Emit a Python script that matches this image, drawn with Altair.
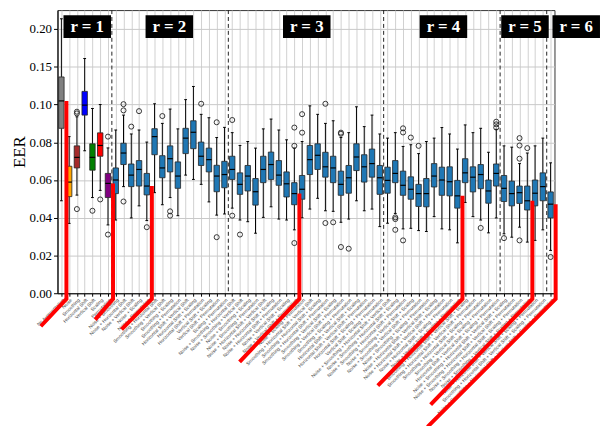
import json
from itertools import combinations
import pandas as pd
import altair as alt

# ---------------- data ----------------
METHODS = ["Noise", "Smoothing", "Horizontal Shift", "Vertical Shift", "Scaling", "Permutation"]
LABELS = ["No Augmentation"] + [" + ".join(c) for r in range(1, 7) for c in combinations(METHODS, r)]

WHISKER_LO = [0.049, 0.037, 0.052, 0.0755, 0.0507, 0.0545, 0.0362,
              0.0388, 0.0565, 0.0399, 0.0463, 0.0385, 0.0533, 0.0469, 0.0507, 0.0411, 0.0626,
              0.0603, 0.0577, 0.0484, 0.0414, 0.042,
              0.0451, 0.0388, 0.0379, 0.0318, 0.0402, 0.0458, 0.0393, 0.0388, 0.0336, 0.040,
              0.0446, 0.0503, 0.0437, 0.0434, 0.0376, 0.0393, 0.049, 0.0437, 0.0446, 0.0353,
              0.0371, 0.0423, 0.0341, 0.0344, 0.0332, 0.0327, 0.0406, 0.0341, 0.0336, 0.0267,
              0.0481, 0.0406, 0.0388, 0.032, 0.0399,
              0.0315, 0.0297, 0.035, 0.0271, 0.028, 0.0336,
              0.0227]
Q1 = [0.0874, 0.0512, 0.0664, 0.0944, 0.0652, 0.0726, 0.0507,
      0.0528, 0.0682, 0.0565, 0.0568, 0.0521, 0.0734, 0.0612, 0.0643, 0.0556, 0.074,
      0.0766, 0.0677, 0.0643, 0.0538, 0.0559,
      0.0603, 0.0524, 0.0542, 0.0467, 0.0586, 0.0603, 0.0572, 0.051, 0.0469, 0.0498,
      0.0629, 0.0656, 0.0615, 0.0586, 0.0519, 0.053, 0.065, 0.0589, 0.0615, 0.0524,
      0.053, 0.0586, 0.0519, 0.0498, 0.046, 0.0458, 0.0563, 0.0519, 0.0516, 0.0451,
      0.0586, 0.0537, 0.0554, 0.0477, 0.0568,
      0.0486, 0.0463, 0.0476, 0.0441, 0.0463, 0.049,
      0.0399]
MEDIAN = [0.1048, 0.0589, 0.072, 0.0997, 0.072, 0.0783, 0.0582,
          0.060, 0.0743, 0.0626, 0.0656, 0.0568, 0.083, 0.0664, 0.0713, 0.0621, 0.0822,
          0.0853, 0.0726, 0.0708, 0.0621, 0.0629,
          0.0656, 0.0577, 0.0621, 0.0538, 0.0656, 0.0682, 0.0626, 0.058, 0.0528, 0.0551,
          0.0708, 0.0731, 0.067, 0.0664, 0.0577, 0.0612, 0.0722, 0.067, 0.0687, 0.0612,
          0.0598, 0.0635, 0.0572, 0.0551, 0.0528, 0.0528, 0.0621, 0.060, 0.0591, 0.0516,
          0.0638, 0.0615, 0.0629, 0.0542, 0.0635,
          0.0556, 0.0528, 0.0533, 0.049, 0.053, 0.0565,
          0.0472]
Q3 = [0.1365, 0.0673, 0.0781, 0.1174, 0.0792, 0.085, 0.0635,
      0.0664, 0.0795, 0.0685, 0.0703, 0.0635, 0.0872, 0.0729, 0.0781, 0.0696, 0.0874,
      0.0914, 0.0801, 0.0769, 0.0678, 0.0699,
      0.0726, 0.0638, 0.0677, 0.0608, 0.0726, 0.0748, 0.0703, 0.0643, 0.0586, 0.0624,
      0.0783, 0.0792, 0.0747, 0.0726, 0.0647, 0.0677, 0.0792, 0.0734, 0.0764, 0.0677,
      0.0668, 0.0703, 0.0647, 0.0617, 0.0577, 0.0608, 0.0687, 0.0668, 0.067, 0.0598,
      0.0713, 0.067, 0.0682, 0.060, 0.0685,
      0.0624, 0.0594, 0.0568, 0.0568, 0.060, 0.0638,
      0.0537]
WHISKER_HI = [0.2135, 0.083, 0.0935, 0.1609, 0.0979, 0.100, 0.077,
              0.0865, 0.0944, 0.0844, 0.0865, 0.0801, 0.101, 0.090, 0.0976, 0.0871, 0.1065,
              0.1239, 0.0948, 0.093, 0.0825, 0.0879,
              0.0851, 0.0783, 0.0804, 0.0769, 0.0871, 0.0923, 0.0865, 0.0813, 0.0769, 0.0804,
              0.0993, 0.0948, 0.090, 0.0914, 0.0825, 0.0851, 0.0988, 0.0883, 0.0944, 0.0844,
              0.0822, 0.0851, 0.0778, 0.0787, 0.074, 0.0804, 0.0822, 0.0878, 0.0844, 0.0764,
              0.0892, 0.0851, 0.0874, 0.0747, 0.0869,
              0.0781, 0.0774, 0.0687, 0.0743, 0.0781, 0.0822,
              0.0691]
OUTLIERS = [[], [], [0.0962, 0.0953, 0.0446], [], [0.0437], [0.0497], [0.083, 0.0311],
            [], [0.1005, 0.0969, 0.0486], [0.0883], [0.0965], [0.035], [], [0.0939],
            [0.0434, 0.0411], [], [], [], [0.101], [], [0.0906, 0.0297], [],
            [0.0918, 0.0411], [0.0311], [], [], [], [], [], [], [0.0878, 0.0781, 0.0266],
            [0.0949, 0.0851], [], [], [0.101, 0.0372], [0.0376], [0.0851, 0.0845, 0.0245],
            [0.0236], [], [], [], [],
            [], [0.0402, 0.0393, 0.0336], [0.0874, 0.0852, 0.028], [0.0825], [0.0781], [],
            [], [], [], [], [], [], [0.0346], [], [0.0909, 0.0895, 0.0878],
            [0.0292], [], [0.0822, 0.0783, 0.0713, 0.028], [0.0769], [], [],
            [0.0192]]

GROUP_TEXT = ["r = 1", "r = 2", "r = 3", "r = 4", "r = 5", "r = 6"]
GROUP_X = [3.33, 13.9, 31.6, 49.2, 59.7, 66.3]
GROUP_Y = 0.203
SEPARATORS = [6.5, 21.5, 41.5, 56.5, 62.5]

# highlighted (best) boxes and their callout leaders toward the tick labels
HILITE = [0, 6, 11, 30, 51, 60, 63]
LEAD_DX = [3.3, 2.3, 3.9, 7.7, 10.9, 13.1, 16.5]
LEAD_Y = [-0.0175, -0.014, -0.0192, -0.0364, -0.049, -0.059, -0.0708]
BEND_Y = -0.003

COLOR_KEYS = LABELS[:7] + ["combination"]
COLOR_RANGE = ["#808080", "#ffa500", "#a52a2a", "#0000ff", "#008000", "#ff0000", "#800080", "#1f77b4"]

# ---------------- tables ----------------
boxes = pd.DataFrame({
    "idx": list(range(len(LABELS))),
    "label": LABELS,
    "lo": WHISKER_LO, "q1": Q1, "med": MEDIAN, "q3": Q3, "hi": WHISKER_HI,
})
boxes["ckey"] = [l if i < 7 else "combination" for i, l in enumerate(LABELS)]

out_rows = [{"idx": i, "v": v} for i, vs in enumerate(OUTLIERS) for v in vs]
outliers = pd.DataFrame(out_rows)

lead_rows = []
for k, (i, dx, ly) in enumerate(zip(HILITE, LEAD_DX, LEAD_Y)):
    x0 = i + 0.65
    lead_rows += [
        {"g": k, "o": 0, "x": x0, "y": MEDIAN[i]},
        {"g": k, "o": 1, "x": x0, "y": BEND_Y},
        {"g": k, "o": 2, "x": x0 - dx, "y": ly},
    ]
leads = pd.DataFrame(lead_rows)

groups = pd.DataFrame({"x": GROUP_X, "t": GROUP_TEXT, "y": [GROUP_Y] * len(GROUP_X)})
seps = pd.DataFrame({"x": SEPARATORS})

# ---------------- scales / axes ----------------
W, H = 502, 286
xscale = alt.Scale(domain=[-0.5, len(LABELS) - 0.5], nice=False, zero=False)
yscale = alt.Scale(domain=[0, 0.10, 0.225], range=[H, 95.4, 0], nice=False, zero=False)

label_expr = json.dumps(LABELS) + "[datum.value]"
xaxis = alt.Axis(values=list(range(len(LABELS))), labelExpr=label_expr, labelAngle=-45,
                 labelFont="Liberation Sans", labelFontSize=4.8, labelColor="#444",
                 labelOverlap=False, labelFlush=False, labelBound=False, labelLimit=400,
                 labelPadding=1, tickSize=3, tickColor="black", domainColor="black",
                 grid=True, gridColor="#d0d0d0", title=None)
yaxis = alt.Axis(values=[0, 0.02, 0.04, 0.06, 0.08, 0.10, 0.15, 0.20], format=".2f",
                 labelFont="Liberation Serif", labelFontSize=13, labelColor="black",
                 tickSize=4, tickColor="black", domainColor="black",
                 grid=True, gridColor="#c8c8c8",
                 title="EER", titleFont="Liberation Serif", titleFontSize=17,
                 titleFontWeight="normal", titleColor="black",
                 titleX=-33, titleY=H / 2, titleAngle=270, titleBaseline="alphabetic",
                 titleAlign="center")


def X(f):
    return alt.X(f, type="quantitative", scale=xscale, axis=xaxis)


def Y(f):
    return alt.Y(f, type="quantitative", scale=yscale, axis=yaxis)


base = alt.Chart(boxes)

wlo = base.mark_rule(color="black", strokeWidth=1).encode(x=X("idx"), y=Y("lo"), y2="q1")
whi = base.mark_rule(color="black", strokeWidth=1).encode(x=X("idx"), y=Y("q3"), y2="hi")
caps_lo = base.transform_calculate(cl="datum.idx - 0.18", cr="datum.idx + 0.18").mark_rule(
    color="black", strokeWidth=1).encode(x=X("cl"), x2="cr", y=Y("lo"))
caps_hi = base.transform_calculate(cl="datum.idx - 0.18", cr="datum.idx + 0.18").mark_rule(
    color="black", strokeWidth=1).encode(x=X("cl"), x2="cr", y=Y("hi"))
rects = base.transform_calculate(bl="datum.idx - 0.35", br="datum.idx + 0.35").mark_rect(
    stroke="#222", strokeWidth=0.8).encode(
    x=X("bl"), x2="br", y=Y("q1"), y2="q3",
    color=alt.Color("ckey:N", scale=alt.Scale(domain=COLOR_KEYS, range=COLOR_RANGE), legend=None))
meds = base.transform_calculate(bl="datum.idx - 0.35", br="datum.idx + 0.35").mark_rule(
    color="black", strokeWidth=1.2).encode(x=X("bl"), x2="br", y=Y("med"))
outs = alt.Chart(outliers).mark_point(shape="circle", filled=False, size=26, color="#222",
                                      strokeWidth=0.9, opacity=1).encode(x=X("idx"), y=Y("v"))
sep = alt.Chart(seps).mark_rule(color="#222", strokeDash=[4, 3], strokeWidth=1).encode(x=X("x"))
lead = alt.Chart(leads).mark_line(color="#ff0000", strokeWidth=4, clip=False,
                                  strokeJoin="miter").encode(
    x=X("x"), y=Y("y"), detail="g:N", order="o:Q")
gbox = alt.Chart(groups).mark_point(shape="M-1,-0.48L1,-0.48L1,0.48L-1,0.48Z", filled=True,
                                    size=2304, color="black", opacity=1, clip=False).encode(
    x=X("x"), y=Y("y"))
gtxt = alt.Chart(groups).mark_text(color="white", font="Liberation Serif", fontSize=17,
                                   fontWeight="bold", baseline="middle", align="center",
                                   clip=False).encode(x=X("x"), y=Y("y"), text="t:N")

chart = alt.layer(wlo, whi, caps_lo, caps_hi, rects, meds, outs, sep, lead, gbox, gtxt).properties(
    width=W, height=H,
    padding={"left": 50, "top": 0, "right": 48, "bottom": 132},
    autosize=alt.AutoSizeParams(type="none"),
    background="white",
).configure_view(stroke="#333", strokeWidth=1)

chart.save("out.html", embed_options={"renderer": "svg", "actions": False})
